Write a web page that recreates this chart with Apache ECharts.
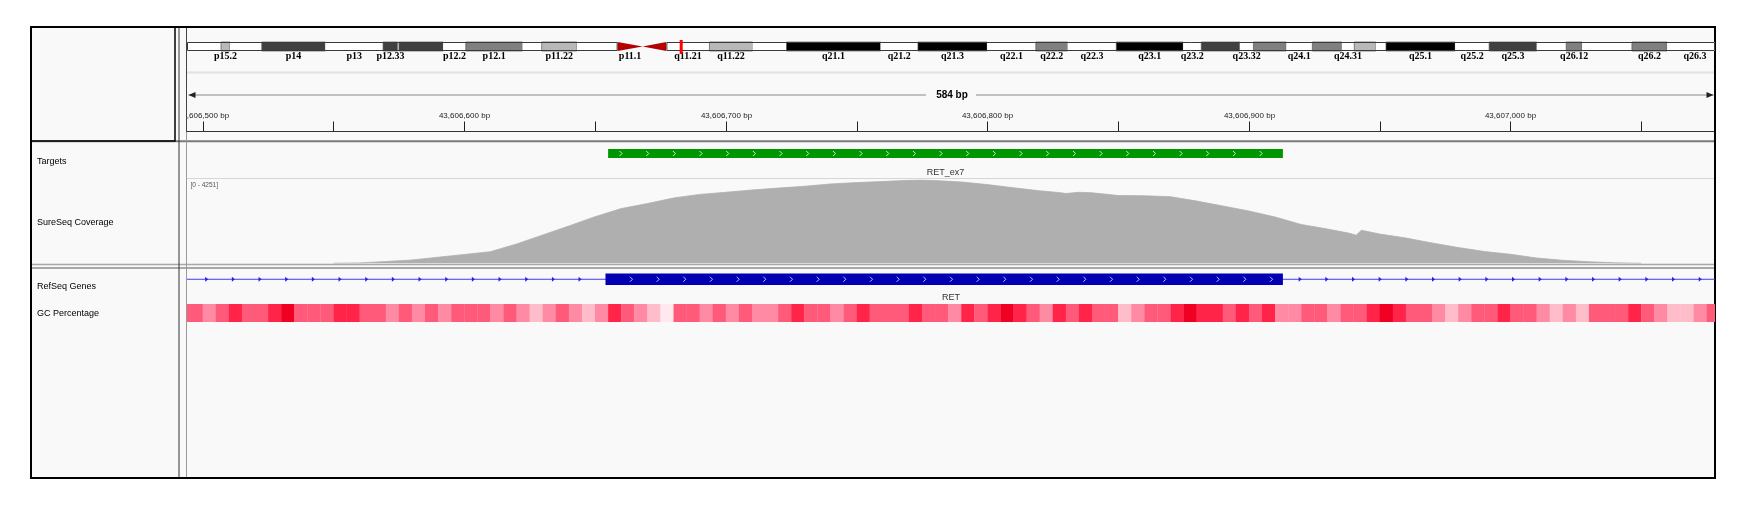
<!DOCTYPE html>
<html>
<head>
<meta charset="utf-8">
<script src="https://cdn.jsdelivr.net/npm/echarts@6/dist/echarts.min.js"></script>
<style>
html, body { margin: 0; padding: 0; background: #fff; }
#chart { width: 1752px; height: 509px; }
</style>
</head>
<body>
<div id="chart"></div>
<script>
// chr10 cytobands (hg19), Mb
var bandNames = ['p15.3','p15.2','p15.1','p14','p13','p12.33','p12.32','p12.31','p12.2','p12.1','p11.23','p11.22','p11.21','p11.1',
	'q11.1','q11.21','q11.22','q11.23','q21.1','q21.2','q21.3','q22.1','q22.2','q22.3','q23.1','q23.2','q23.31','q23.32','q23.33',
	'q24.1','q24.2','q24.31','q24.32','q24.33','q25.1','q25.2','q25.3','q26.11','q26.12','q26.13','q26.2','q26.3'];
var bandStarts = [0, 3.0, 3.8, 6.6, 12.2, 17.3, 18.6, 18.7, 22.6, 24.6, 29.6, 31.3, 34.4, 38.0,
	40.2, 42.3, 46.1, 49.9, 52.9, 61.2, 64.5, 70.6, 74.9, 77.7, 82.0, 87.9, 89.5, 92.9, 94.1,
	97.0, 99.3, 101.9, 103.0, 104.9, 105.8, 111.9, 114.9, 119.1, 121.7, 123.1, 127.5, 130.6];
var bandEnds = [3.0, 3.8, 6.6, 12.2, 17.3, 18.6, 18.7, 22.6, 24.6, 29.6, 31.3, 34.4, 38.0, 40.2,
	42.3, 46.1, 49.9, 52.9, 61.2, 64.5, 70.6, 74.9, 77.7, 82.0, 87.9, 89.5, 92.9, 94.1, 97.0,
	99.3, 101.9, 103.0, 104.9, 105.8, 111.9, 114.9, 119.1, 121.7, 123.1, 127.5, 130.6, 135.53];
var bandStains = ['gneg','gpos25','gneg','gpos75','gneg','gpos75','gneg','gpos75','gneg','gpos50','gneg','gpos25','gneg','acen',
	'acen','gneg','gpos25','gneg','gpos100','gneg','gpos100','gneg','gpos50','gneg','gpos100','gneg','gpos75','gneg','gpos50',
	'gneg','gpos50','gneg','gpos25','gneg','gpos100','gneg','gpos75','gneg','gpos50','gneg','gpos50','gneg'];
var shownBands = ['p15.2','p14','p13','p12.33','p12.2','p12.1','p11.22','p11.1','q11.21','q11.22','q21.1','q21.2','q21.3',
	'q22.1','q22.2','q22.3','q23.1','q23.2','q23.32','q24.1','q24.31','q25.1','q25.2','q25.3','q26.12','q26.2','q26.3'];
var chromShown = 134.83;
var currentMb = 43.6068;

// view
var viewStart = 43606494;
var viewEnd = 43607078.2;
var rulerTicks = [43606500, 43606550, 43606600, 43606650, 43606700, 43606750, 43606800, 43606850,
	43606900, 43606950, 43607000, 43607050];

// features
var targetName = 'RET_ex7';
var targetStart = 43606655;
var targetEnd = 43606913;
var geneName = 'RET';
var geneStart = 43572517;
var geneEnd = 43625799;
var exonStart = 43606654;
var exonEnd = 43606913;

// coverage
var covMax = 4251;
var covPos = [43606550, 43606560, 43606570, 43606580, 43606590, 43606600, 43606610, 43606620, 43606630, 43606640,
	43606650, 43606660, 43606670, 43606680, 43606690, 43606700, 43606710, 43606720, 43606730, 43606740,
	43606750, 43606760, 43606770, 43606775, 43606780, 43606790, 43606800, 43606810, 43606820, 43606828,
	43606830, 43606835, 43606840, 43606850, 43606860, 43606870, 43606880, 43606890, 43606900, 43606910,
	43606920, 43606930, 43606938, 43606941, 43606943, 43606950, 43606960, 43606970, 43606980, 43606990,
	43607000, 43607010, 43607020, 43607030, 43607040, 43607050];
var covVals = [0, 20, 92, 168, 311, 449, 592, 985, 1444, 1903,
	2378, 2791, 3046, 3332, 3516, 3623, 3740, 3837, 3929, 4047,
	4118, 4174, 4235, 4251, 4220, 4149, 4016, 3853, 3700, 3603,
	3560, 3623, 3598, 3460, 3445, 3399, 3179, 2924, 2669, 2363,
	1980, 1750, 1546, 1434, 1684, 1495, 1291, 1036, 806, 602,
	459, 270, 153, 77, 26, 0];

// GC percentage, 5 bp windows
var gcFirst = 43606490;
var gcWin = 5;
var gcVals = [60, 60, 40, 60, 80, 60, 60, 80, 100, 60, 60, 60, 80, 80, 60, 60, 40, 60, 40, 60,
	40, 60, 60, 60, 40, 60, 40, 20, 40, 60, 40, 20, 40, 80, 60, 40, 20, 0, 60, 60,
	40, 60, 40, 60, 40, 40, 60, 80, 60, 60, 40, 60, 80, 60, 60, 60, 80, 60, 60, 40,
	80, 60, 80, 100, 80, 60, 40, 80, 60, 80, 60, 60, 20, 40, 60, 60, 80, 100, 80, 80,
	60, 80, 60, 80, 40, 40, 60, 60, 40, 60, 60, 80, 100, 80, 60, 60, 40, 20, 40, 60,
	60, 80, 60, 60, 40, 20, 40, 20, 60, 60, 60, 80, 60, 40, 20, 20, 40, 60];
var gcColors = { 0: '#ffe8ee', 20: '#ffbccb', 40: '#ff8aa3', 60: '#ff5a7a', 80: '#ff2448', 100: '#f00022' };

var stainColors = { gneg: '#ffffff', gpos25: '#b8b8b8', gpos50: '#808080', gpos75: '#404040', gpos100: '#000000' };
var sans = '"Liberation Sans", Arial, sans-serif';

function commas(n) {
	return String(n).replace(/\B(?=(\d{3})+(?!\d))/g, ',');
}

var L = 187, W = 1528;
var grids = [
	{ left: L, width: W, top: 42, height: 9 },      // ideogram
	{ left: L, width: W, top: 72, height: 60 },     // ruler
	{ left: L, width: W, top: 149, height: 9 },     // targets
	{ left: L, width: W, top: 180, height: 83.3 },  // coverage
	{ left: L, width: W, top: 273.5, height: 11.5 },// genes
	{ left: L, width: W, top: 304, height: 18 }     // gc
];
var xAxes = grids.map(function(g, i) {
	return i === 0 ? { gridIndex: 0, type: 'value', min: 0, max: chromShown, show: false }
		: { gridIndex: i, type: 'value', min: viewStart, max: viewEnd, show: false };
});
var yAxes = grids.map(function(g, i) {
	return { gridIndex: i, type: 'value', min: 0, max: i === 3 ? covMax : 1, show: false };
});

function chevrons(x0, x1, first, step, yc, color, kids) {
	for (var x = x0 + first; x < x1 - 2; x += step) {
		kids.push({ type: 'polyline', shape: { points: [[x - 1.5, yc - 2.5], [x + 1, yc], [x - 1.5, yc + 2.5]] },
			style: { stroke: color, lineWidth: 1, fill: null } });
	}
}

var series = [
	{	// cytobands
		type: 'custom', xAxisIndex: 0, yAxisIndex: 0, clip: false, silent: true,
		data: bandNames.map(function(n, i) { return [bandStarts[i], bandEnds[i], i]; }),
		renderItem: function(params, api) {
			var cs = params.coordSys, i = api.value(2);
			var x0 = api.coord([api.value(0), 0])[0];
			var x1 = Math.min(api.coord([api.value(1), 0])[0], cs.x + cs.width);
			var t = cs.y, h = cs.height;
			if (bandStains[i] === 'acen') {
				var pts = bandNames[i].charAt(0) === 'p'
					? [[x0, t], [x1, t + h / 2], [x0, t + h]]
					: [[x0, t + h / 2], [x1, t], [x1, t + h]];
				return { type: 'polygon', shape: { points: pts }, style: { fill: '#b40000' } };
			}
			return { type: 'rect', shape: { x: x0, y: t, width: x1 - x0, height: h },
				style: { fill: stainColors[bandStains[i]], stroke: bandStains[i] === 'gneg' ? null : '#555', lineWidth: 0.7 } };
		}
	},
	{	// arm outlines
		type: 'custom', xAxisIndex: 0, yAxisIndex: 0, clip: false, silent: true,
		data: [[bandStarts[0], bandStarts[13]], [bandStarts[15], bandEnds[bandEnds.length - 1]]],
		renderItem: function(params, api) {
			var cs = params.coordSys;
			var x0 = api.coord([api.value(0), 0])[0];
			var x1 = Math.min(api.coord([api.value(1), 0])[0], cs.x + cs.width);
			return { type: 'rect', shape: { x: x0 + 0.5, y: cs.y + 0.5, width: x1 - x0 - 1, height: cs.height - 1 },
				style: { fill: null, stroke: '#3a3a3a', lineWidth: 1 } };
		}
	},
	{	// band labels
		type: 'custom', xAxisIndex: 0, yAxisIndex: 0, clip: false, silent: true,
		data: shownBands.map(function(n) { var i = bandNames.indexOf(n); return [(bandStarts[i] + bandEnds[i]) / 2, i]; }),
		renderItem: function(params, api) {
			var cs = params.coordSys;
			var x = api.coord([api.value(0), 0])[0];
			return { type: 'text', style: { text: bandNames[api.value(1)], x: x, y: cs.y + cs.height + 5.5,
				fill: '#000', font: 'bold 10px "Liberation Serif", "DejaVu Serif", serif',
				align: 'center', verticalAlign: 'middle', textAlign: 'center', textVerticalAlign: 'middle' } };
		}
	},
	{	// current location
		type: 'custom', xAxisIndex: 0, yAxisIndex: 0, clip: false, silent: true,
		data: [[currentMb]],
		renderItem: function(params, api) {
			var cs = params.coordSys;
			var x = api.coord([api.value(0), 0])[0];
			return { type: 'rect', shape: { x: x - 1.5, y: cs.y - 2, width: 3, height: cs.height + 5 }, style: { fill: '#ff0000' } };
		}
	},
	{	// ruler ticks
		type: 'custom', xAxisIndex: 1, yAxisIndex: 1, clip: true, silent: true,
		data: rulerTicks.map(function(t) { return [t]; }),
		renderItem: function(params, api) {
			var cs = params.coordSys, bp = api.value(0);
			var x = Math.round(api.coord([bp, 0])[0]) + 0.5;
			var kids = [{ type: 'line', shape: { x1: x, y1: cs.y + 49.5, x2: x, y2: cs.y + 59 },
				style: { stroke: '#222', lineWidth: 1 } }];
			if (bp % 100 === 0) {
				kids.push({ type: 'text', style: { text: commas(bp) + ' bp', x: x, y: cs.y + 43.7, fill: '#222',
					font: '8px ' + sans, align: 'center', verticalAlign: 'middle', textAlign: 'center', textVerticalAlign: 'middle' } });
			}
			return { type: 'group', children: kids };
		}
	},
	{	// span indicator
		type: 'custom', xAxisIndex: 1, yAxisIndex: 1, clip: true, silent: true,
		data: [[viewStart, viewEnd]],
		renderItem: function(params, api) {
			var cs = params.coordSys;
			var x0 = api.coord([api.value(0), 0])[0] + 1.5;
			var x1 = api.coord([api.value(1), 0])[0] - 1.5;
			var y = cs.y + 23, xm = (x0 + x1) / 2;
			var span = Math.round(api.value(1) - api.value(0));
			return { type: 'group', children: [
				{ type: 'line', shape: { x1: x0, y1: y, x2: xm - 25, y2: y }, style: { stroke: '#888', lineWidth: 1 } },
				{ type: 'line', shape: { x1: xm + 25, y1: y, x2: x1, y2: y }, style: { stroke: '#888', lineWidth: 1 } },
				{ type: 'polygon', shape: { points: [[x0, y], [x0 + 7, y - 3], [x0 + 7, y + 3]] }, style: { fill: '#222' } },
				{ type: 'polygon', shape: { points: [[x1, y], [x1 - 7, y - 3], [x1 - 7, y + 3]] }, style: { fill: '#222' } },
				{ type: 'text', style: { text: span + ' bp', x: xm + 1, y: y, fill: '#000', font: 'bold 10px ' + sans,
					align: 'center', verticalAlign: 'middle', textAlign: 'center', textVerticalAlign: 'middle' } }
			] };
		}
	},
	{	// targets
		type: 'custom', xAxisIndex: 2, yAxisIndex: 2, clip: false, silent: true,
		data: [[targetStart, targetEnd]],
		renderItem: function(params, api) {
			var cs = params.coordSys;
			var x0 = api.coord([api.value(0), 0])[0];
			var x1 = api.coord([api.value(1), 0])[0];
			var kids = [{ type: 'rect', shape: { x: x0, y: cs.y, width: x1 - x0, height: cs.height }, style: { fill: '#009600' } }];
			chevrons(x0, x1, 13, 26.67, cs.y + cs.height / 2, '#c8f0c8', kids);
			kids.push({ type: 'text', style: { text: targetName, x: (x0 + x1) / 2, y: cs.y + 23.7, fill: '#333',
				font: '9px ' + sans, align: 'center', verticalAlign: 'middle', textAlign: 'center', textVerticalAlign: 'middle' } });
			return { type: 'group', children: kids };
		}
	},
	{	// coverage
		type: 'line', xAxisIndex: 3, yAxisIndex: 3, silent: true, symbol: 'none',
		data: covPos.map(function(p, i) { return [p, covVals[i]]; }),
		lineStyle: { width: 0.8, color: '#afafaf' },
		areaStyle: { color: '#afafaf', opacity: 1 }
	},
	{	// RefSeq gene
		type: 'custom', xAxisIndex: 4, yAxisIndex: 4, clip: false, silent: true,
		data: [[geneStart, geneEnd, exonStart, exonEnd]],
		renderItem: function(params, api) {
			var cs = params.coordSys;
			var gx0 = Math.max(api.coord([api.value(0), 0])[0], cs.x);
			var gx1 = Math.min(api.coord([api.value(1), 0])[0], cs.x + cs.width);
			var ex0 = api.coord([api.value(2), 0])[0];
			var ex1 = api.coord([api.value(3), 0])[0];
			var yc = cs.y + cs.height / 2;
			var kids = [{ type: 'line', shape: { x1: gx0, y1: yc, x2: gx1, y2: yc }, style: { stroke: '#3a3aff', lineWidth: 1 } }];
			for (var x = gx0 + 19.7; x < gx1 - 2; x += 26.67) {
				if (x > ex0 - 3 && x < ex1 + 3) continue;
				kids.push({ type: 'polygon', shape: { points: [[x - 1.5, yc - 2.5], [x + 1.5, yc], [x - 1.5, yc + 2.5]] },
					style: { fill: '#2020e8' } });
			}
			kids.push({ type: 'rect', shape: { x: ex0, y: cs.y, width: ex1 - ex0, height: cs.height }, style: { fill: '#0000b2' } });
			chevrons(ex0, ex1, 26, 26.67, yc, '#c0c0ff', kids);
			kids.push({ type: 'text', style: { text: geneName, x: (gx0 + gx1) / 2, y: cs.y + 24.5, fill: '#333',
				font: '9px ' + sans, align: 'center', verticalAlign: 'middle', textAlign: 'center', textVerticalAlign: 'middle' } });
			return { type: 'group', children: kids };
		}
	},
	{	// GC percentage
		type: 'custom', xAxisIndex: 5, yAxisIndex: 5, clip: true, silent: true,
		data: gcVals.map(function(v, i) { return [gcFirst + i * gcWin, gcFirst + (i + 1) * gcWin, v]; }),
		renderItem: function(params, api) {
			var cs = params.coordSys;
			var x0 = api.coord([api.value(0), 0])[0];
			var x1 = api.coord([api.value(1), 0])[0];
			return { type: 'rect', shape: { x: x0, y: cs.y, width: x1 - x0 + 0.3, height: cs.height },
				style: { fill: gcColors[api.value(2)] } };
		}
	}
];

function hline(x1, x2, y, color, w) {
	return { type: 'line', shape: { x1: x1, y1: y, x2: x2, y2: y }, style: { stroke: color, lineWidth: w } };
}
function vline(x, y1, y2, color, w) {
	return { type: 'line', shape: { x1: x, y1: y1, x2: x, y2: y2 }, style: { stroke: color, lineWidth: w } };
}
function label(text, x, y, font, color) {
	return { type: 'text', x: x, y: y, style: { text: text, font: font, fill: color || '#000',
		align: 'left', verticalAlign: 'middle', textAlign: 'left', textVerticalAlign: 'middle' } };
}

var chrome = [
	{ type: 'rect', shape: { x: 31, y: 27, width: 1684, height: 451 }, style: { fill: '#f9f9f9' } },
	hline(187, 1715, 72.5, '#e2e2e2', 2),
	hline(187, 1715, 131.5, '#333', 1),
	hline(187, 1715, 178.5, '#d6d6d6', 1),
	hline(31, 1715, 141.2, '#7a7a7a', 2),
	hline(31, 1715, 264.6, '#a8a8a8', 1.5),
	hline(31, 1715, 268, '#8c8c8c', 1.5),
	vline(179, 27, 478, '#333', 1),
	vline(186.5, 27, 478, '#9a9a9a', 1),
	vline(186.5, 27, 132, '#444', 1),
	{ type: 'rect', shape: { x: 31, y: 27, width: 144, height: 114 }, style: { fill: null, stroke: '#000', lineWidth: 1.5 } },
	{ type: 'rect', shape: { x: 31, y: 27, width: 1684, height: 451 }, style: { fill: null, stroke: '#000', lineWidth: 2 } },
	label('Targets', 37, 161.3, '9px ' + sans),
	label('SureSeq Coverage', 37, 222.3, '9px ' + sans),
	label('RefSeq Genes', 37, 286.7, '9px ' + sans),
	label('GC Percentage', 37, 313.5, '9px ' + sans),
	label('[0 - ' + covMax + ']', 190.5, 185, '6.5px ' + sans, '#555')
];

var chart = echarts.init(document.getElementById('chart'), null, { renderer: 'canvas' });
chart.setOption({
	backgroundColor: '#ffffff',
	animation: false,
	grid: grids,
	xAxis: xAxes,
	yAxis: yAxes,
	graphic: { elements: chrome },
	series: series
});
</script>
</body>
</html>
